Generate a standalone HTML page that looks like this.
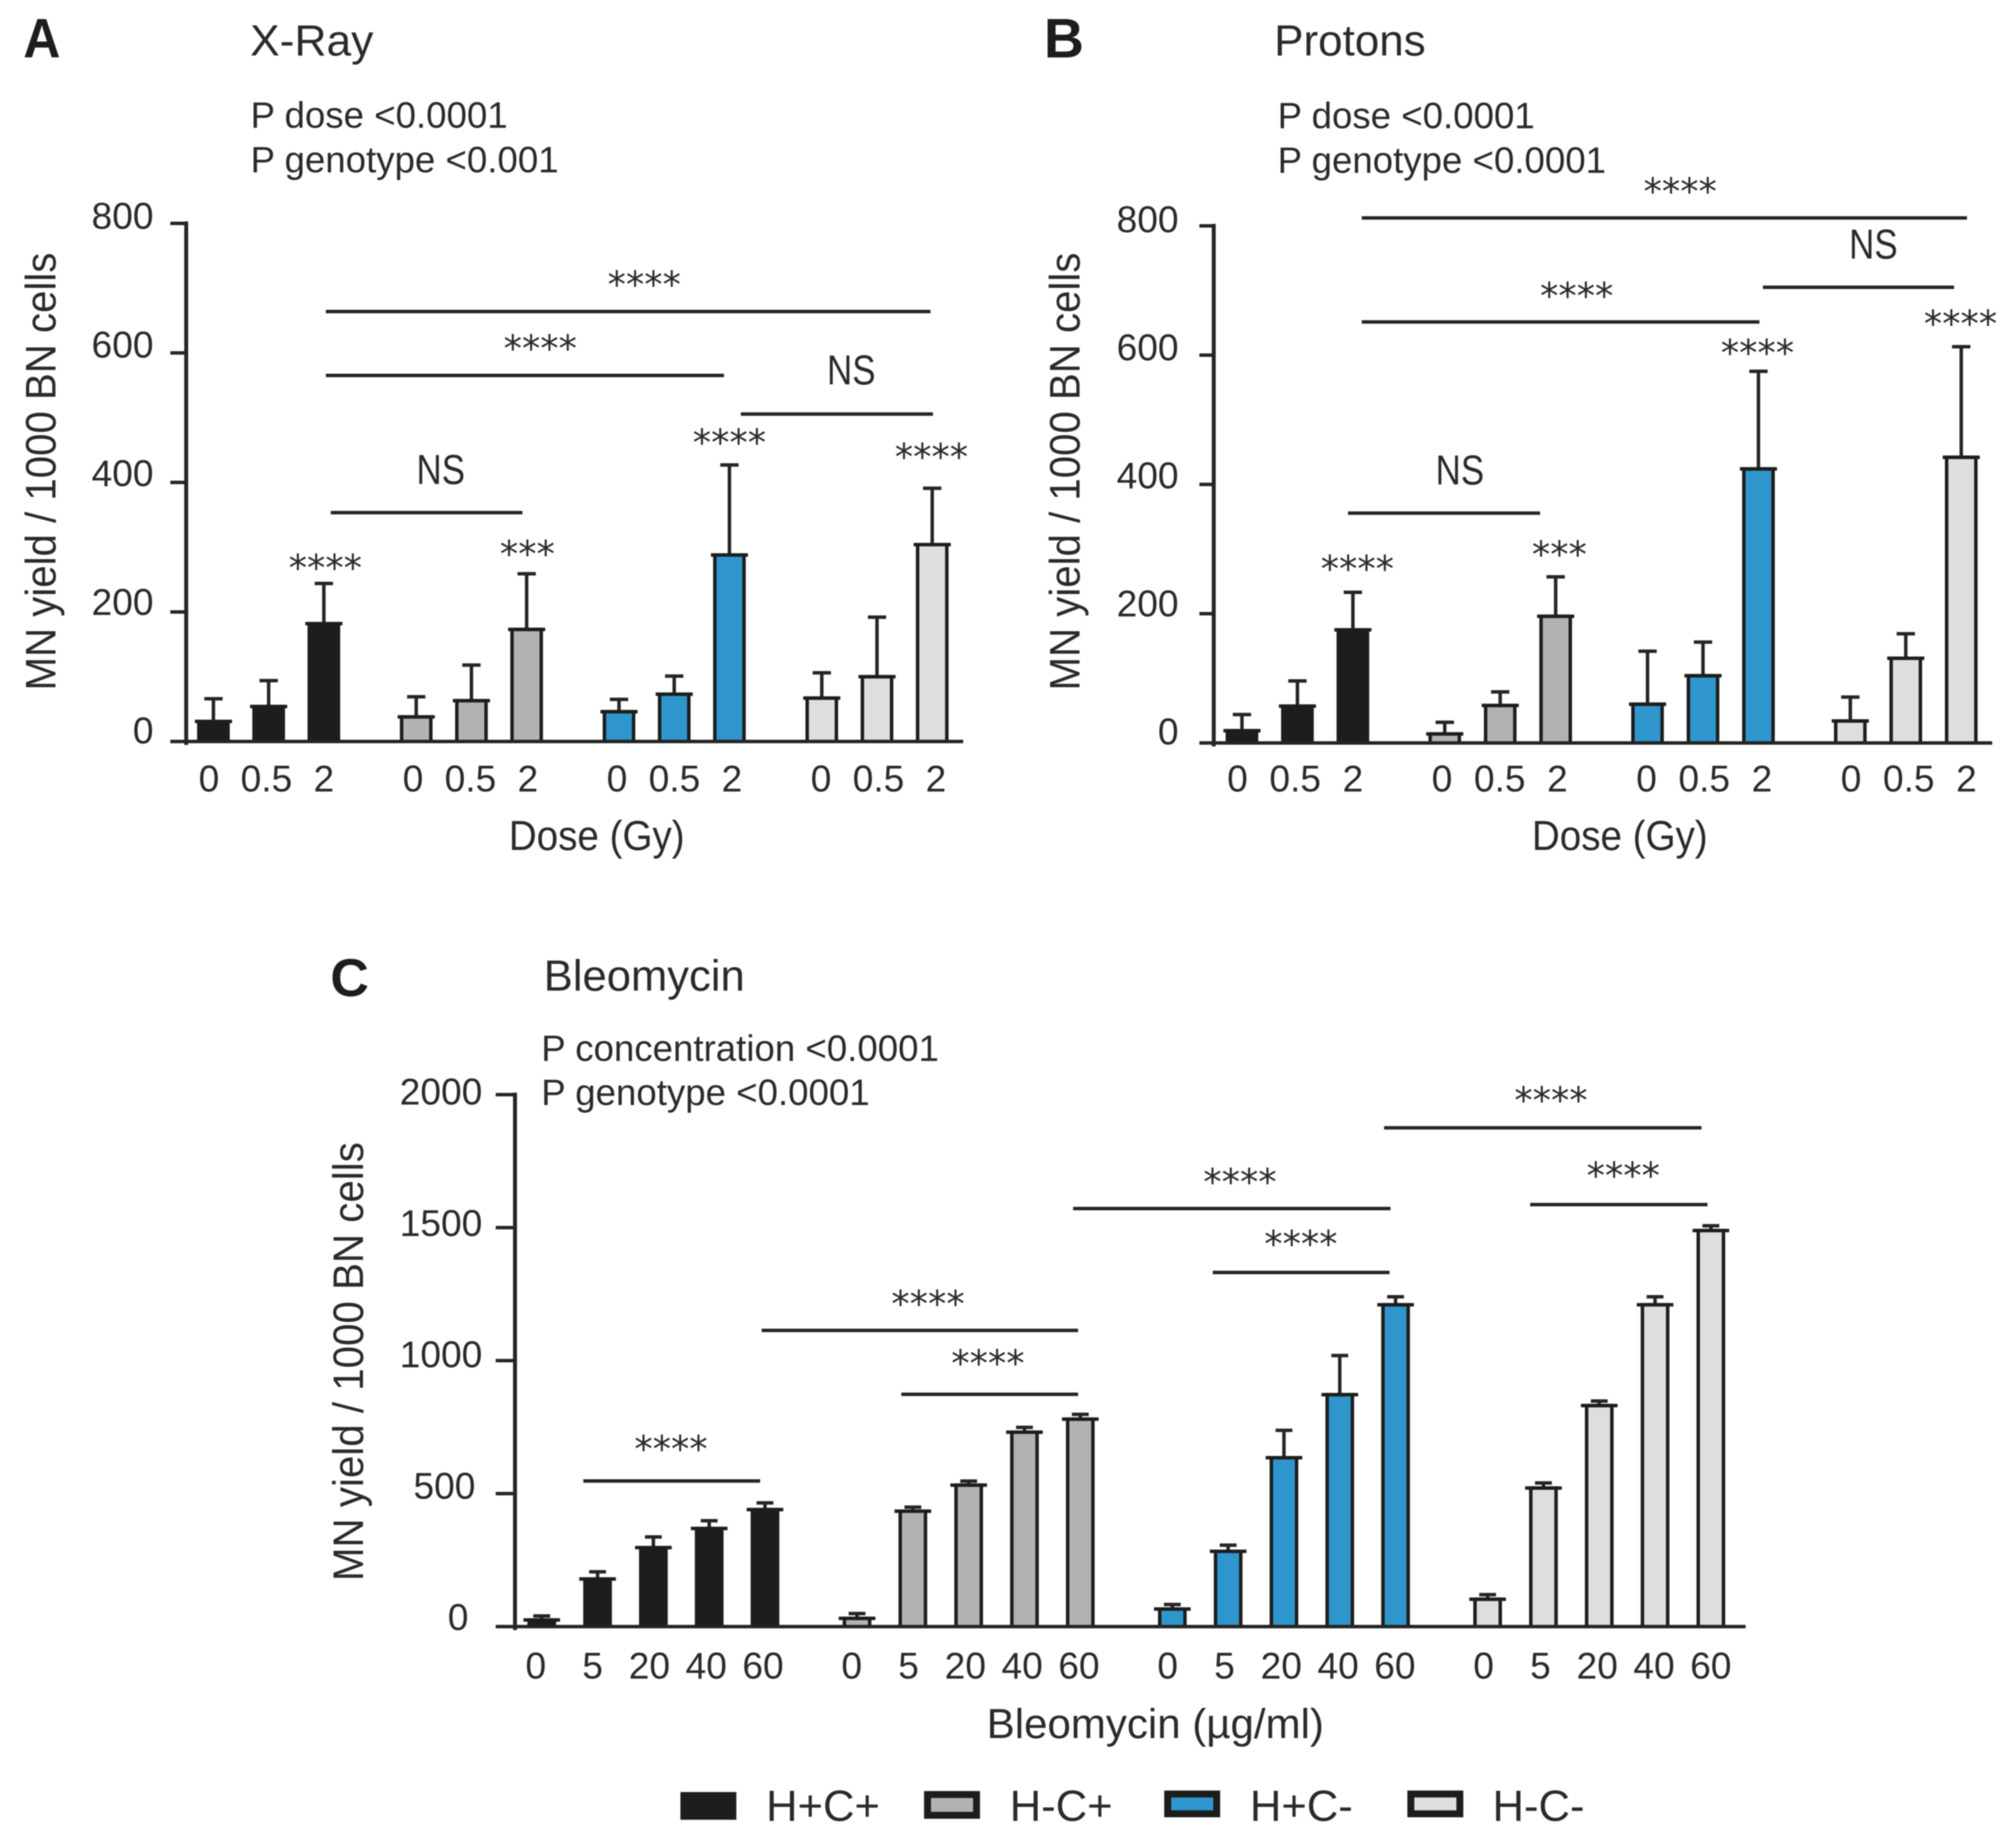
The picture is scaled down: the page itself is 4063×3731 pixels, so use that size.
<!DOCTYPE html>
<html lang="en">
<head>
<meta charset="utf-8">
<title>Micronucleus yield by dose and genotype</title>
<style>
html,body{margin:0;padding:0;background:#fff;}
svg{display:block;filter:blur(1.1px);}
text{font-family:"Liberation Sans",sans-serif;fill:#2b2a29;}
.star{font-family:"DejaVu Sans","Liberation Sans",sans-serif;font-size:74px;text-anchor:middle;fill:#2b2a29;transform:translateY(-5px);}
.ns{font-size:84px;text-anchor:middle;}
.letter{font-weight:bold;fill:#1d1d1b;}
.title{font-size:88px;}
.pval{font-size:74px;}
.ytitle{font-size:86px;text-anchor:middle;}
.xtitle{font-size:84px;text-anchor:middle;}
.legend-text{font-size:88px;}
.br{stroke:#262524;stroke-width:7;}
</style>
</head>
<body>
<svg id="figure" xmlns="http://www.w3.org/2000/svg" width="4063" height="3731" viewBox="0 0 4063 3731">
  <rect x="0" y="0" width="4063" height="3731" fill="#ffffff"/>

  <!-- Panel A static -->
  <text class="letter" x="47" y="116" font-size="112" textLength="75" lengthAdjust="spacingAndGlyphs">A</text>
  <text class="title" x="505" y="112" textLength="249" lengthAdjust="spacingAndGlyphs">X-Ray</text>
  <text class="pval" x="506" y="258">P dose &lt;0.0001</text>
  <text class="pval" x="506" y="348">P genotype &lt;0.001</text>
  <text class="ytitle" transform="translate(112,952) rotate(-90)" textLength="884" lengthAdjust="spacingAndGlyphs">MN yield / 1000 BN cells</text>
  <text class="xtitle" x="1205" y="1716" textLength="355" lengthAdjust="spacingAndGlyphs">Dose (Gy)</text>
  <line class="br" x1="658" x2="1879" y1="629" y2="629"/>
  <text class="star" x="1301" y="605">****</text>
  <line class="br" x1="658" x2="1462" y1="758" y2="758"/>
  <text class="star" x="1091" y="734">****</text>
  <line class="br" x1="1496" x2="1884" y1="836" y2="836"/>
  <text class="ns" x="1719" y="776" textLength="98" lengthAdjust="spacingAndGlyphs">NS</text>
  <line class="br" x1="668" x2="1055" y1="1035" y2="1035"/>
  <text class="ns" x="890" y="977" textLength="98" lengthAdjust="spacingAndGlyphs">NS</text>
  <text class="star" x="657" y="1177">****</text>
  <text class="star" x="1065" y="1149">***</text>
  <text class="star" x="1473" y="924">****</text>
  <text class="star" x="1881" y="953">****</text>

  <!-- Panel B static -->
  <text class="letter" x="2108" y="116" font-size="112">B</text>
  <text class="title" x="2573" y="112" textLength="306" lengthAdjust="spacingAndGlyphs">Protons</text>
  <text class="pval" x="2580" y="259">P dose &lt;0.0001</text>
  <text class="pval" x="2580" y="349">P genotype &lt;0.0001</text>
  <text class="ytitle" transform="translate(2180,952) rotate(-90)" textLength="884" lengthAdjust="spacingAndGlyphs">MN yield / 1000 BN cells</text>
  <text class="xtitle" x="3271" y="1716" textLength="355" lengthAdjust="spacingAndGlyphs">Dose (Gy)</text>
  <line class="br" x1="2750" x2="3972" y1="440" y2="440"/>
  <text class="star" x="3393" y="417">****</text>
  <line class="br" x1="3560" x2="3946" y1="580" y2="580"/>
  <text class="ns" x="3783" y="522" textLength="98" lengthAdjust="spacingAndGlyphs">NS</text>
  <line class="br" x1="2750" x2="3553" y1="650" y2="650"/>
  <text class="star" x="3184" y="628">****</text>
  <line class="br" x1="2722" x2="3110" y1="1036" y2="1036"/>
  <text class="ns" x="2948" y="978" textLength="98" lengthAdjust="spacingAndGlyphs">NS</text>
  <text class="star" x="2741" y="1179">****</text>
  <text class="star" x="3149" y="1150">***</text>
  <text class="star" x="3549" y="743">****</text>
  <text class="star" x="3959" y="684">****</text>

  <!-- Panel C static -->
  <text class="letter" x="667" y="2011" font-size="108">C</text>
  <text class="title" x="1098" y="2000">Bleomycin</text>
  <text class="pval" x="1093" y="2142">P concentration &lt;0.0001</text>
  <text class="pval" x="1093" y="2231">P genotype &lt;0.0001</text>
  <text class="ytitle" transform="translate(733,2749) rotate(-90)" textLength="886" lengthAdjust="spacingAndGlyphs">MN yield / 1000 BN cells</text>
  <text class="xtitle" x="2333" y="3509" textLength="681" lengthAdjust="spacingAndGlyphs">Bleomycin (µg/ml)</text>
  <line class="br" x1="1178" x2="1535" y1="2990" y2="2990"/>
  <text class="star" x="1355" y="2956">****</text>
  <line class="br" x1="1538" x2="2177" y1="2686" y2="2686"/>
  <text class="star" x="1874" y="2663">****</text>
  <line class="br" x1="1820" x2="2177" y1="2815" y2="2815"/>
  <text class="star" x="1995" y="2783">****</text>
  <line class="br" x1="2167" x2="2808" y1="2440" y2="2440"/>
  <text class="star" x="2504" y="2417">****</text>
  <line class="br" x1="2449" x2="2806" y1="2569" y2="2569"/>
  <text class="star" x="2627" y="2542">****</text>
  <line class="br" x1="2795" x2="3436" y1="2277" y2="2277"/>
  <text class="star" x="3132" y="2252">****</text>
  <line class="br" x1="3090" x2="3448" y1="2432" y2="2432"/>
  <text class="star" x="3278" y="2404">****</text>

  <!-- Legend -->
  <g>
    <rect x="1381" y="3625" width="99" height="42" fill="#1d1d1b" stroke="#1d1d1b" stroke-width="14"/>
    <text class="legend-text" x="1547" y="3676">H+C+</text>
    <rect x="1873" y="3623" width="99" height="42" fill="#b2b2b2" stroke="#1d1d1b" stroke-width="14"/>
    <text class="legend-text" x="2039" y="3676">H-C+</text>
    <rect x="2358" y="3622" width="99" height="40" fill="#2e96cd" stroke="#1d1d1b" stroke-width="14"/>
    <text class="legend-text" x="2524" y="3676">H+C-</text>
    <rect x="2849" y="3622" width="99" height="40" fill="#dedede" stroke="#1d1d1b" stroke-width="14"/>
    <text class="legend-text" x="3014" y="3676">H-C-</text>
  </g>
</svg>

<script>
// ---- data ----
const genotypes = ['H+C+', 'H-C+', 'H+C-', 'H-C-'];
const genotypeColors = ['#1d1d1b', '#b2b2b2', '#2e96cd', '#dedede'];
const doseLabels = ['0', '0.5', '2'];
const concentrationLabels = ['0', '5', '20', '40', '60'];

const doseTicks = [0, 200, 400, 600, 800];
const bleoTicks = [0, 500, 1000, 1500, 2000];

const xrayMeans = [31, 54, 182, 38, 63, 173, 46, 73, 288, 67, 100, 304];
const xrayUpper = [66, 94, 244, 69, 118, 259, 65, 101, 427, 106, 192, 391];

const protonMeans = [19, 57, 175, 14, 58, 196, 60, 104, 424, 34, 131, 442];
const protonUpper = [44, 96, 233, 32, 79, 257, 142, 156, 575, 71, 169, 613];

const bleoMeans = [25, 179, 297, 369, 440, 31, 434, 532, 731, 780, 66, 283, 635, 872, 1210, 103, 521, 831, 1210, 1489];
const bleoUpper = [40, 206, 337, 398, 465, 49, 449, 547, 749, 798, 83, 306, 738, 1019, 1240, 120, 540, 848, 1240, 1507];

// ---- drawing ----
const SVG_NS = 'http://www.w3.org/2000/svg';
const figure = document.getElementById('figure');
const INK = '#262524';

function make(tag, attrs, parent) {
  const el = document.createElementNS(SVG_NS, tag);
  for (const k in attrs) el.setAttribute(k, attrs[k]);
  parent.appendChild(el);
  return el;
}

function drawPanel(p) {
  const yScale = function (v) { return p.baseY - (v / p.yMax) * (p.baseY - p.topY); };
  const tickLabelY = function (v) { return p.tickLabelBottom - (v / p.yMax) * (p.tickLabelBottom - p.tickLabelTop); };
  const barX = function (g, b) { return p.barX0 + g * p.groupStep + b * p.barStep; };
  const labelX = function (g, b) { return p.labelX0 + g * p.labelGroupStep + b * p.labelStep; };

  const root = make('g', {}, figure);
  
  

  // bars & error bars
  const nPer = p.categories.length;
  p.means.forEach(function (mean, i) {
    const g = Math.floor(i / nPer);
    const b = i % nPer;
    const cx = barX(g, b);
    const top = yScale(mean);
    const up = yScale(p.upper[i]);

    const stem = make('line', { x1: cx, x2: cx, y1: top, y2: up, stroke: INK, 'stroke-width': 7 }, root);
    
    

    const errCap = make('line', { x1: cx - p.errCap / 2, x2: cx + p.errCap / 2, y1: up, y2: up, stroke: INK, 'stroke-width': 7 }, root);
    
    

    const rect = make('rect', {
      x: cx - p.barW / 2 + 3.5, y: top, width: p.barW - 7, height: Math.max(0, p.baseY - top),
      fill: genotypeColors[g], stroke: '#1d1d1b', 'stroke-width': 7
    }, root);
    
    

    const cap = make('line', { x1: cx - p.capW / 2, x2: cx + p.capW / 2, y1: top, y2: top, stroke: '#1d1d1b', 'stroke-width': 7 }, root);
    
    

    const lab = make('text', { x: labelX(g, b), y: p.labelY, 'text-anchor': 'middle', 'font-size': 75 }, root);
    lab.textContent = p.categories[b];
    
    
  });

  // axes
  const yAxis = make('line', { x1: p.axisX, x2: p.axisX, y1: yScale(p.yMax) - 4, y2: p.baseY + 7, stroke: INK, 'stroke-width': 8 }, root);
  
  

  const xAxis = make('line', { x1: p.tickLeft, x2: p.baseRight, y1: p.baseY, y2: p.baseY, stroke: INK, 'stroke-width': 7 }, root);
  
  

  p.ticks.forEach(function (t) {
    const ty = yScale(t);
    const tick = make('line', { x1: p.tickLeft, x2: p.axisX, y1: ty, y2: ty, stroke: INK, 'stroke-width': 7 }, root);
    
    

    const label = String(t);
    const lx = p.tickLabelRight - Math.min(2, 4 - label.length) * p.tickShift;
    const tl = make('text', { x: lx, y: tickLabelY(t), 'text-anchor': 'end', 'font-size': 75 }, root);
    tl.textContent = label;
    
    
  });
}

drawPanel({
  id: 'panel-a', means: xrayMeans, upper: xrayUpper, categories: doseLabels, ticks: doseTicks, yMax: 800,
  baseY: 1497, topY: 451, axisX: 376, tickLeft: 344, baseRight: 1945,
  barX0: 431, barStep: 111.5, groupStep: 409.5, barW: 66, capW: 75, errCap: 37,
  labelX0: 422, labelStep: 116, labelGroupStep: 412, labelY: 1598,
  tickLabelRight: 310, tickLabelTop: 462, tickLabelBottom: 1501, tickShift: 0
});

drawPanel({
  id: 'panel-b', means: protonMeans, upper: protonUpper, categories: doseLabels, ticks: doseTicks, yMax: 800,
  baseY: 1500, topY: 456, axisX: 2451, tickLeft: 2422, baseRight: 4023,
  barX0: 2508, barStep: 112, groupStep: 409.5, barW: 66, capW: 75, errCap: 37,
  labelX0: 2499, labelStep: 116.5, labelGroupStep: 413, labelY: 1598,
  tickLabelRight: 2380, tickLabelTop: 469, tickLabelBottom: 1503, tickShift: 0
});

drawPanel({
  id: 'panel-c', means: bleoMeans, upper: bleoUpper, categories: concentrationLabels, ticks: bleoTicks, yMax: 2000,
  baseY: 3284, topY: 2210, axisX: 1040, tickLeft: 1001, baseRight: 3525,
  barX0: 1094, barStep: 112.7, groupStep: 636.7, barW: 58, capW: 74, errCap: 34,
  labelX0: 1082, labelStep: 114.7, labelGroupStep: 638, labelY: 3389,
  tickLabelRight: 974, tickLabelTop: 2230, tickLabelBottom: 3291, tickShift: 14
});
</script>
</body>
</html>
